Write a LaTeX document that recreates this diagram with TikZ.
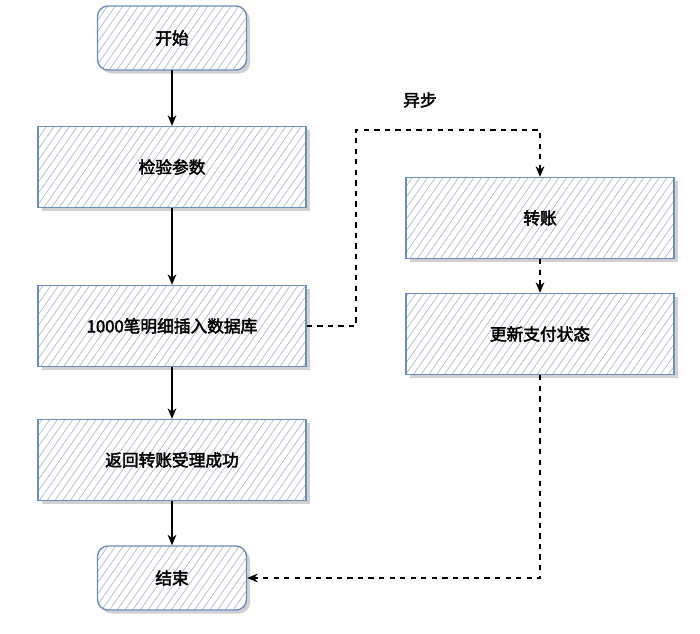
\documentclass[tikz,border=0pt]{standalone}
\usepackage{fontspec}
\newfontfamily\cjk{Noto Sans CJK SC}[AutoFakeBold=2.5]
\usetikzlibrary{arrows.meta,patterns.meta,shadows}

\definecolor{boxline}{HTML}{6C8EBF}
\definecolor{hatch}{HTML}{AEB9C8}

\tikzset{
  stepbox/.style={draw=boxline, line width=0.8pt,
    drop shadow={shadow xshift=2pt, shadow yshift=-2pt, opacity=0.45, fill=black!40},
    preaction={fill=white},
    pattern={Lines[angle=55,distance=3.6pt,line width=0.4pt]}, pattern color=hatch,
    minimum width=5.36cm, minimum height=1.62cm,
    font=\cjk\bfseries\fontsize{9.5}{11}\selectfont},
  endbox/.style={stepbox, rounded corners=6pt, minimum width=2.98cm, minimum height=1.28cm},
  flow/.style={-{Stealth[length=6pt,width=5pt]}, thick},
  async/.style={flow, dashed, semithick}
}

\begin{document}
\begin{tikzpicture}[x=1cm,y=-1cm]
        \useasboundingbox (0,0) rectangle (14,12.68);

        \node[endbox] (start) at (3.44,0.76) {开始};
        \node[stepbox] (check) at (3.44,3.34) {检验参数};
        \node[stepbox] (insert) at (3.44,6.52) {1000笔明细插入数据库};
        \node[stepbox] (reply) at (3.44,9.2) {返回转账受理成功};
        \node[endbox] (finish) at (3.44,11.56) {结束};

        \node[stepbox] (transfer) at (10.8,4.36) {转账};
        \node[stepbox] (update) at (10.8,6.68) {更新支付状态};

        \node[font=\cjk\bfseries\fontsize{9.5}{11}\selectfont] (asynclabel) at (8.4,2.0) {异步};
        \coordinate (turnA) at (7.12,6.52);
        \coordinate (turnB) at (7.12,2.6);
        \coordinate (turnC) at (10.8,2.6);
        \coordinate (turnD) at (10.8,11.56);

        \draw[flow] (start) -- (check);
        \draw[flow] (check) -- (insert);
        \draw[flow] (insert) -- (reply);
        \draw[flow] (reply) -- (finish);

        \draw[async] (insert.east) -- (turnA) -- (turnB) -- (turnC) -- (transfer.north);
        \draw[async] (transfer) -- (update);
        \draw[async] (update.south) -- (turnD) -- (finish.east);
      \end{tikzpicture}
\end{document}
